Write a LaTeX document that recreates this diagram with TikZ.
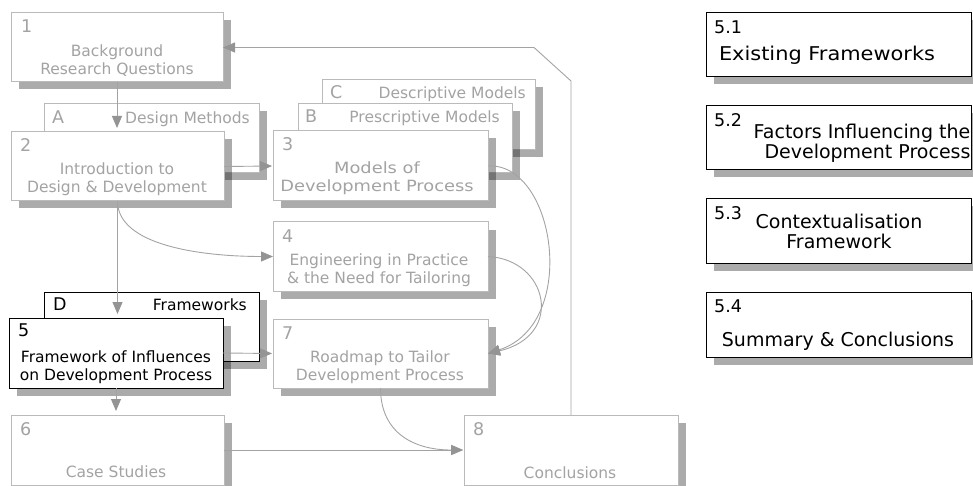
\documentclass[tikz,border=0pt]{standalone}
\usepackage{fontspec}
\setmainfont{DejaVu Sans}
\newfontfamily\widesans[FakeStretch=1.15]{DejaVu Sans}
\newfontfamily\midsans[FakeStretch=1.1]{DejaVu Sans}
\usetikzlibrary{shadows,arrows.meta,calc}

\definecolor{paleline}{gray}{0.73}
\definecolor{paletext}{gray}{0.64}
\definecolor{linkgray}{gray}{0.64}
\definecolor{tipgray}{gray}{0.58}

\tikzset{
  box/.style={draw=paleline, fill=white, line width=1pt, rectangle,
    inner sep=0pt, outer sep=0pt, anchor=north west,
    drop shadow={shadow xshift=8pt, shadow yshift=-7.5pt, fill=black, opacity=0.33}},
  activebox/.style={box, draw=black},
  boxsize/.style 2 args={minimum width=#1pt, minimum height=#2pt},
  num/.style={anchor=base west, inner sep=0pt, font=\fontsize{17.5}{20}\selectfont, text=paletext},
  title/.style={anchor=base, inner sep=0pt, align=center, font=\fontsize{15.5}{18}\selectfont, text=paletext},
  tag/.style={anchor=base east, inner sep=0pt, font=\fontsize{15.5}{18}\selectfont, text=paletext},
  bigtitle/.style={anchor=base, inner sep=0pt, align=center, font=\fontsize{19}{20}\selectfont, text=black},
  link/.style={draw=linkgray, line width=0.9pt,
    -{Triangle[length=12pt, width=10pt, fill=tipgray, color=tipgray]}},
}

\begin{document}
\begin{tikzpicture}[x=1pt, y=-1pt]
\useasboundingbox (0,0) rectangle (973,486);

% chapter 1
\node[box, boxsize={212}{69}] (b1) at (11,13) {};
\node[num] (n1) at ($(b1.north west)+(10,20)$) {1};
\node[title] (t1) at (117,75) {Background\\Research Questions};

% appendix A behind chapter 2
\node[box, boxsize={215}{69}] (bA) at (44,104) {};
\node[num] (nA) at ($(bA.north west)+(8,20)$) {A};
\node[tag] (tA) at (250,124) {Design Methods};

% chapter 2
\node[box, boxsize={213}{69}] (b2) at (11,132) {};
\node[num] (n2) at ($(b2.north west)+(9,20)$) {2};
\node[title] (t2) at (117,193) {Introduction to\\Design \& Development};

% appendices C and B behind chapter 3
\node[box, boxsize={213}{70}] (bC) at (322,80) {};
\node[num] (nC) at ($(bC.north west)+(8,19)$) {C};
\node[tag] (tC) at (526,99) {Descriptive Models};

\node[box, boxsize={214}{69}] (bB) at (298,104) {};
\node[num] (nB) at ($(bB.north west)+(7,19)$) {B};
\node[tag] (tB) at (500,123) {Prescriptive Models};

% chapter 3
\node[box, boxsize={215}{70}] (b3) at (273,131) {};
\node[num] (n3) at ($(b3.north west)+(9,20)$) {3};
\node[title, font=\widesans\fontsize{15.5}{18}\selectfont] (t3) at (377,192) {Models of\\Development Process};

% chapter 4
\node[box, boxsize={215}{69}] (b4) at (273,222) {};
\node[num] (n4) at ($(b4.north west)+(9,20)$) {4};
\node[title] (t4) at (379,283) {Engineering in Practice\\\& the Need for Tailoring};

% appendix D behind chapter 5
\node[activebox, boxsize={215}{69}] (bD) at (44,292) {};
\node[num, text=black] (nD) at ($(bD.north west)+(9,18)$) {D};
\node[tag, text=black] (tD) at (247,310) {Frameworks};

% chapter 5
\node[activebox, boxsize={214}{70}] (b5) at (9,318) {};
\node[num, text=black] (n5) at ($(b5.north west)+(9,18)$) {5};
\node[title, text=black] (t5) at (116,380) {Framework of Influences\\on Development Process};

% chapter 7
\node[box, boxsize={215}{69}] (b7) at (273,319) {};
\node[num] (n7) at ($(b7.north west)+(9,20)$) {7};
\node[title] (t7) at (380,380) {Roadmap to Tailor\\Development Process};

% chapter 6
\node[box, boxsize={213}{70}] (b6) at (11,415) {};
\node[num] (n6) at ($(b6.north west)+(9,20)$) {6};
\node[title] (t6) at (116,477) {Case Studies};

% chapter 8
\node[box, boxsize={214}{70}] (b8) at (464,415) {};
\node[num] (n8) at ($(b8.north west)+(9,20)$) {8};
\node[title] (t8) at (570,478) {Conclusions};

% sections of chapter 5
\node[activebox, boxsize={265}{64}] (s1) at (706,13) {};
\node[num, text=black] (m1) at ($(s1.north west)+(8,20.5)$) {5.1};
\node[bigtitle, font=\midsans\fontsize{19}{20}\selectfont] (u1) at (827,61) {Existing Frameworks};

\node[activebox, boxsize={265}{64}] (s2) at (706,106) {};
\node[num, text=black] (m2) at ($(s2.north west)+(8,20.5)$) {5.2};
\node[bigtitle] (u2) at (862,159) {Factors Influencing the\\\hspace*{11pt}Development Process};

\node[activebox, boxsize={265}{64}] (s3) at (706,199) {};
\node[num, text=black] (m3) at ($(s3.north west)+(8,20.5)$) {5.3};
\node[bigtitle] (u3) at (839,248) {Contextualisation\\Framework};

\node[activebox, boxsize={265}{65}] (s4) at (706,292) {};
\node[num, text=black] (m4) at ($(s4.north west)+(8,20.5)$) {5.4};
\node[bigtitle] (u4) at (838,346) {Summary \& Conclusions};

% connectors
\coordinate (fbA) at (571,81);
\coordinate (fbB) at (534,47.5);

\draw[link, shorten >=4pt] (b1.south) -- (b1.south |- b2.north);
\draw[link, shorten >=1pt] (b2.east) -- (b3.west);
\draw[link] (b2.south) .. controls +(0,45) and +(-70,0) .. (b4.west);
\draw[link, shorten >=4pt] (b2.south) -- (b2.south |- b5.north);
\draw[link, shorten >=1pt] (b5.east) -- (b7.west);
\draw[link, shorten >=4pt] (b5.south) -- (b5.south |- b6.north);
\draw[link, shorten >=1pt] (b6.east) -- (b8.west);
\draw[link, shorten >=1pt] (b7.south) .. controls +(0,45) and +(-50,0) .. (b8.west);
\draw[link] (b3.east) .. controls +(67,-4) and +(92,-30) .. (b7.east);
\draw[link] (b4.east) .. controls +(60,3) and +(77,-18) .. (b7.east);
\draw[link] (b8.north) -- (fbA) -- (fbB) -- (b1.east);
\end{tikzpicture}
\end{document}
